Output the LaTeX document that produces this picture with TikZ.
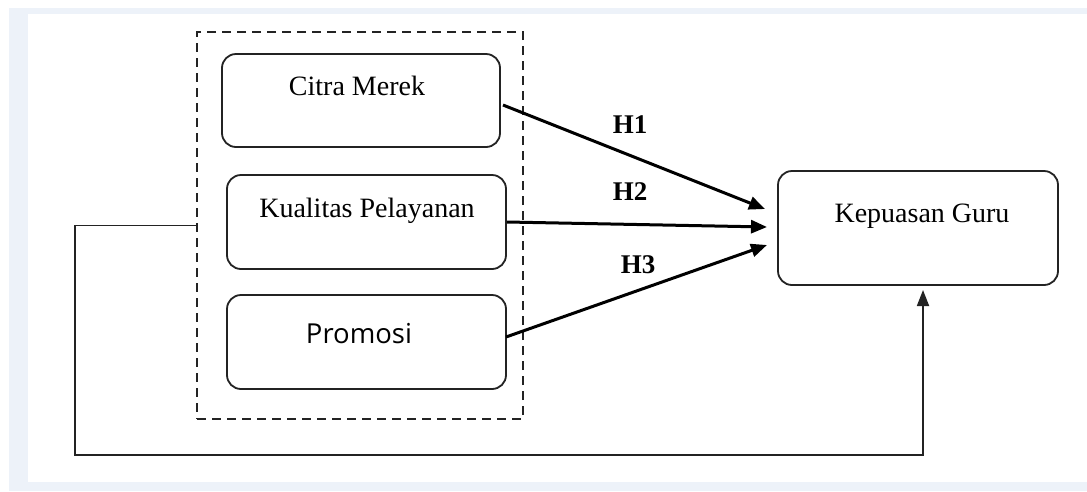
\documentclass[tikz,border=0pt]{standalone}
\usepackage{fontspec}
\setmainfont{Liberation Serif}
\newfontfamily\promofont{Open Sans}
\usetikzlibrary{arrows.meta}
\definecolor{bandcol}{RGB}{237,242,249}
\definecolor{linecol}{RGB}{35,35,35}
\tikzset{
  vbox/.style={draw=linecol, line width=1.8pt, rounded corners=14pt, inner sep=0pt},
  grpbox/.style={draw=linecol, line width=1.8pt, dash pattern=on 9pt off 6pt, inner sep=0pt},
  lbl/.style={anchor=base, inner sep=0pt, font=\fontsize{28}{32}\selectfont},
  hlbl/.style={anchor=base, inner sep=0pt, font=\fontsize{27}{32}\selectfont\bfseries},
  harrow/.style={draw=black, line width=3pt, -{Triangle[length=16pt,width=13pt]}},
  fbline/.style={draw=linecol, line width=1.8pt, -{Triangle[length=16pt,width=12pt]}}
}
\begin{document}
\begin{tikzpicture}[x=1pt,y=-1pt]
\useasboundingbox (0,0) rectangle (1087,491);
\fill[white] (0,0) rectangle (1087,491);
\fill[bandcol] (9,8) rectangle (1087,491);
\fill[white] (28,14) rectangle (1087,482);

% group and boxes
\node[grpbox, minimum width=326pt, minimum height=387pt] (grp) at (360,225.5) {};
\node[vbox, minimum width=278pt, minimum height=93pt] (cm) at (361,100.5) {};
\node[vbox, minimum width=279pt, minimum height=94pt] (kp) at (366.5,222) {};
\node[vbox, minimum width=279pt, minimum height=94pt] (pr) at (366.5,342) {};
\node[vbox, minimum width=280pt, minimum height=114pt] (kg) at (918,228) {};

% texts
\node[lbl] (cmT) at (357,95) {Citra Merek};
\node[lbl] (kpT) at (367,217) {Kualitas Pelayanan};
\node[lbl, font=\fontsize{27.5}{32}\selectfont\promofont] (prT) at (359,343) {Promosi};
\node[lbl] (kgT) at (922,222) {Kepuasan Guru};

\node[hlbl] (h1) at (630,133) {H1};
\node[hlbl] (h2) at (630,200) {H2};
\node[hlbl] (h3) at (638,273) {H3};

% arrow ends
\coordinate (s1) at (503,105);
\coordinate (t1) at (765,209);
\coordinate (s3) at (506,337);
\coordinate (t2) at (767,227);
\coordinate (t3) at (767,245);
\coordinate (fb1) at (75,455);
\coordinate (fbEnd) at (923,290);

\draw[harrow] (s1) -- (t1);
\draw[harrow] (kp.east) -- (t2);
\draw[harrow] (s3) -- (t3);

\draw[fbline] (grp.west) -| (fb1) -| (fbEnd);
\end{tikzpicture}
\end{document}
